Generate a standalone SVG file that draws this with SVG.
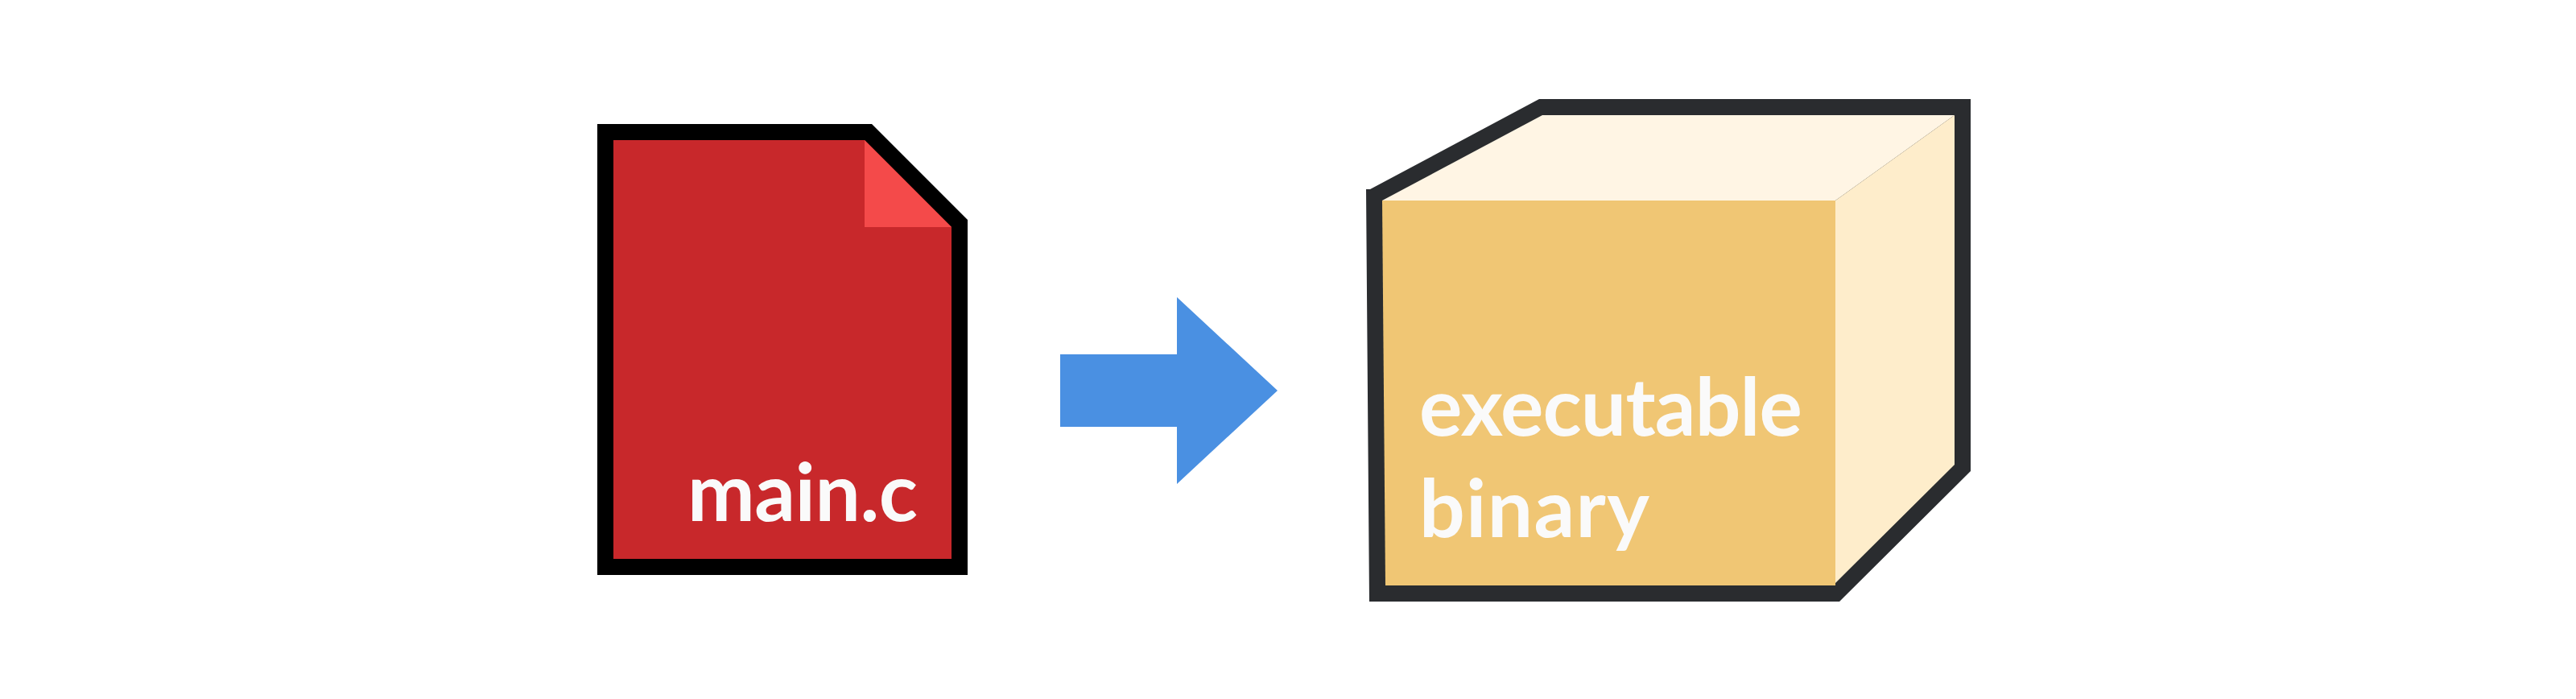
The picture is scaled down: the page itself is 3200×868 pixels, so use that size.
<svg xmlns="http://www.w3.org/2000/svg" width="3200" height="868" viewBox="0 0 3200 868">
<style>
.label{font-family:"Lato","Liberation Sans",sans-serif;fill:#FAFAFA;font-size:100px;font-weight:700}
</style>
<rect width="3200" height="868" fill="#FFFFFF"/>
<g id="main-c">
<polygon points="742,154 1083,154 1202,273 1202,714 742,714" fill="#000000"/>
<polygon points="762,174 1074,174 1182,282 1182,694 762,694" fill="#C8282B"/>
<polygon points="1074,174 1182,282 1074,282" fill="#F44A4A"/>
<text class="label" x="854" y="647" textLength="286" lengthAdjust="spacing">main.c</text>
</g>
<g id="connectors">
<polygon points="1317,440 1462,440 1462,369 1587,485 1462,601 1462,530 1317,530" fill="#4A90E2"/>
</g>
<g id="executable-binary">
<polygon points="1697,235 1702,235 1912,123 2448,123 2448,585 2285,747 1701,747" fill="#2A2C2F"/>
<polygon points="1717,249 1916,143 2428,143 2280,249" fill="#FFF5E4"/>
<polygon points="2280,249 2428,143 2428,577 2277,727 2280,727" fill="#FEEDCB"/>
<polygon points="1717,249 2280,249 2280,727 1721,727" fill="#F0C674"/>
<text class="label" x="1763" y="541" textLength="476" lengthAdjust="spacing">executable</text>
<text class="label" x="1763" y="667" textLength="286" lengthAdjust="spacing">binary</text>
</g>
</svg>
